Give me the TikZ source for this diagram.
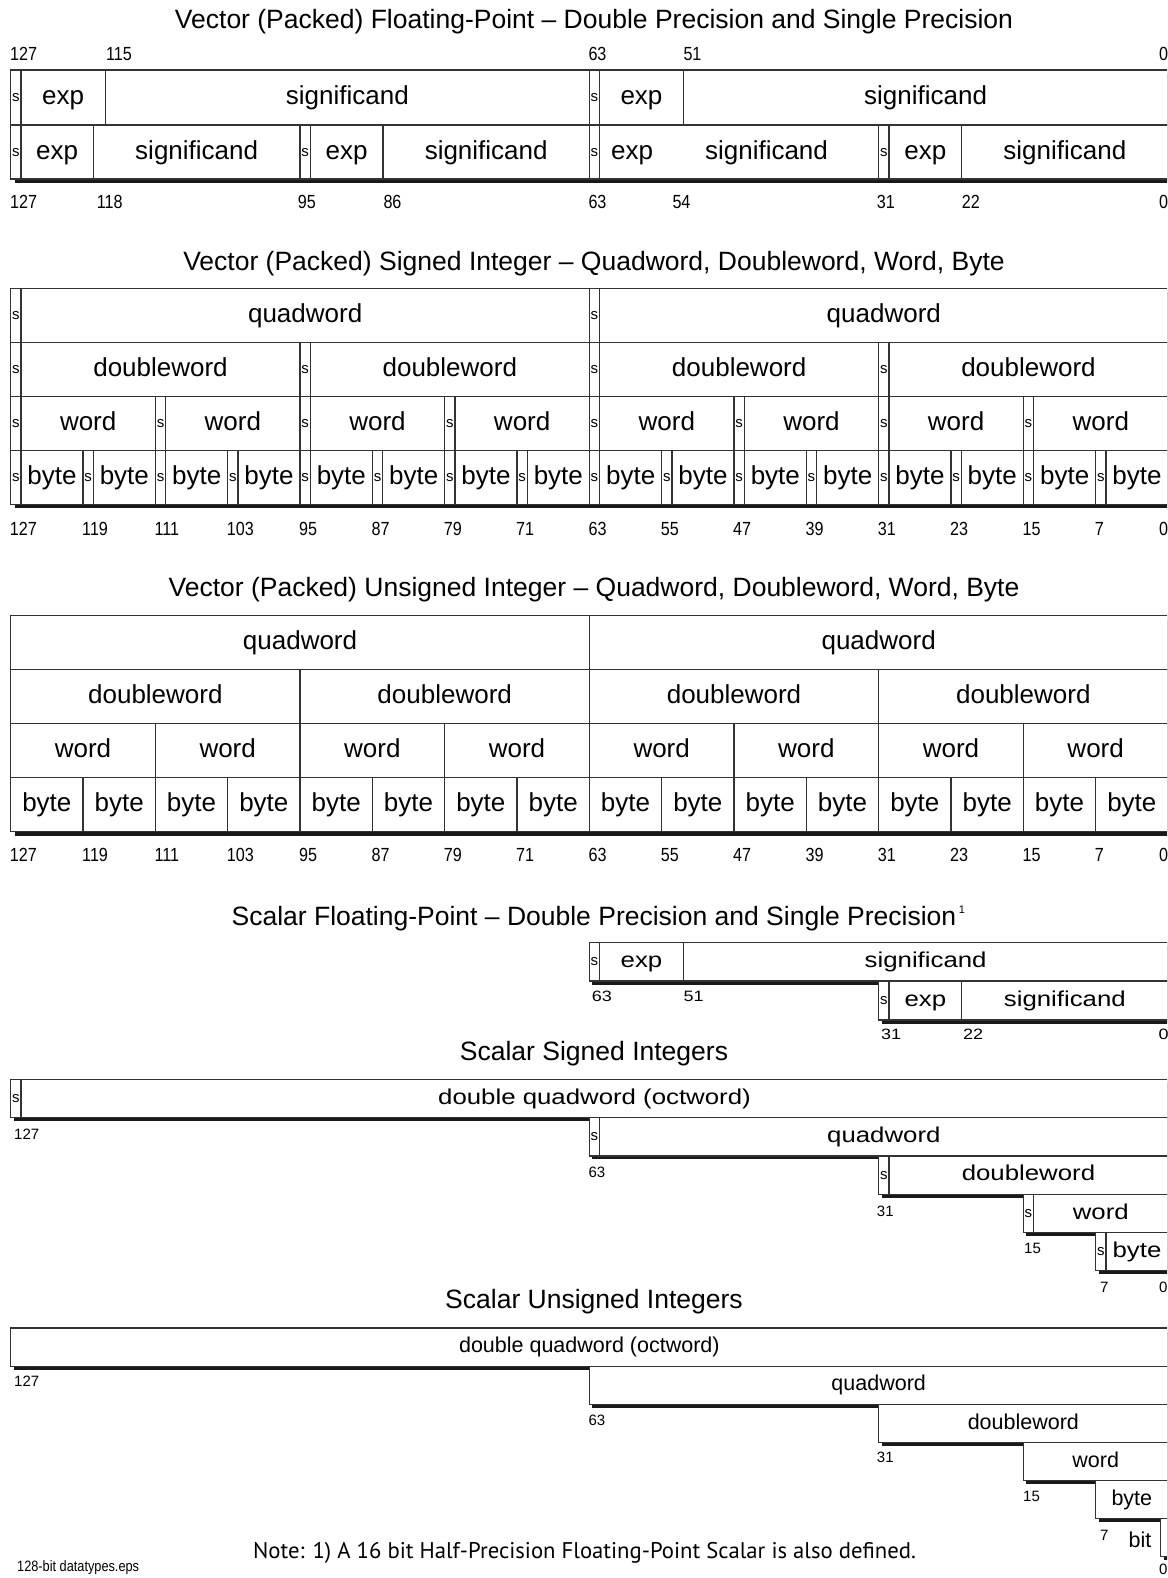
\documentclass[tikz,border=0pt]{standalone}
\usepackage{fontspec}
\setmainfont{Liberation Sans}
\newfontfamily\condfont[FakeStretch=0.85]{Liberation Sans}
\newfontfamily\widefont[FakeStretch=1.2]{Liberation Sans}
\newfontfamily\notefont{PT Sans}
\def\bx#1{(10.7+72.33*(#1))}
\newcommand{\fld}[7][]{\node[fld,#1,minimum width={(#4)-(#3)},minimum height={(#6)-(#5)}] (#2) at ({#3},{#5}) {#7};}
\tikzset{
  fld/.style={draw=black!80, line width=1.1pt, fill=white, inner sep=0pt, outer sep=0pt, anchor=north west},
  big/.style={font=\fontsize{26}{28}\selectfont, inner sep=0pt, text height=14.5pt, text depth=0pt},
  sg/.style={font=\fontsize{15}{15}\selectfont, text height=8.3pt, text depth=0pt},
  wd/.style={font=\widefont\fontsize{21.5}{24}\selectfont, text height=11.4pt, text depth=0pt},
  pl/.style={font=\fontsize{21.5}{24}\selectfont, inner sep=0pt, text height=11.4pt, text depth=0pt},
  ttl/.style={font=\fontsize{26.5}{28}\selectfont, inner sep=0pt},
  num/.style={font=\condfont\fontsize{19}{19}\selectfont, inner sep=0pt, anchor=west, text height=13.6pt, text depth=0pt},
  snum/.style={font=\fontsize{15}{15}\selectfont, inner sep=0pt, anchor=west, text height=10.7pt, text depth=0pt},
  wnum/.style={font=\widefont\fontsize{15}{15}\selectfont, inner sep=0pt, anchor=west, text height=10.7pt, text depth=0pt},
  shd/.style={fill=black!90}
}
\begin{document}
\begin{tikzpicture}[x=1pt, y=-1pt]
    \useasboundingbox (0,0) rectangle (1167,1578);
    \clip (0,0) rectangle (1167,1578);
    \fill[white] (0,0) rectangle (1167,1578);

    \node[ttl] (t1) at (594,22) {Vector (Packed) Floating-Point – Double Precision and Single Precision};
    \fill[shd] ({\bx{0}+4},74) rectangle ({\bx{16}+4},183);
    \fld[sg]{a1}{\bx{0}}{\bx{0}+10.3}{70}{125}{s}
    \fld[big]{a2}{\bx{0}+10.3}{105.3}{70}{125}{exp}
    \fld[big]{a3}{105.3}{\bx{8}}{70}{125}{significand}
    \fld[sg]{a4}{\bx{8}}{\bx{8}+10.3}{70}{125}{s}
    \fld[big]{a5}{\bx{8}+10.3}{683.3}{70}{125}{exp}
    \fld[big]{a6}{683.3}{\bx{16}}{70}{125}{significand}
    \fld[sg]{b1}{\bx{0}}{\bx{0}+10.3}{125}{179}{s}
    \fld[big]{b2}{\bx{0}+10.3}{93.3}{125}{179}{exp}
    \fld[big]{b3}{93.3}{\bx{4}}{125}{179}{significand}
    \fld[sg]{b4}{\bx{4}}{\bx{4}+10.3}{125}{179}{s}
    \fld[big]{b5}{\bx{4}+10.3}{383}{125}{179}{exp}
    \fld[big]{b6}{383}{\bx{8}}{125}{179}{significand}
    \fld[sg]{b7}{\bx{8}}{\bx{8}+10.3}{125}{179}{s}
    \fld{b8}{\bx{8}+10.3}{\bx{12}}{125}{179}{}
    \node[big] (b8e) at (632,152) {exp};
    \node[big] (b8s) at (766.5,152) {significand};
    \fld[sg]{b9}{\bx{12}}{\bx{12}+10.3}{125}{179}{s}
    \fld[big]{b10}{\bx{12}+10.3}{961.7}{125}{179}{exp}
    \fld[big]{b11}{961.7}{\bx{16}}{125}{179}{significand}
    \foreach \n/\x [count=\i] in {127/10,115/106,63/588.3,51/683.3,0/1159}
        \node[num] (ta\i) at (\x,53.3) {\n};
    \foreach \n/\x [count=\i] in {127/10,118/96.7,95/297.7,86/383.3,63/588.3,54/672.3,31/876.7,22/961.7,0/1159}
        \node[num] (tb\i) at (\x,201.5) {\n};

    \node[ttl] (t2) at (594,263.6) {Vector (Packed) Signed Integer – Quadword, Doubleword, Word, Byte};
    \fill[shd] ({\bx{0}+4},292.5) rectangle ({\bx{16}+4},508);
    \foreach \w/\t [count=\row from 0] in {8/quadword,4/doubleword,2/word,1/byte}{
        \pgfmathsetmacro\ya{288.5+53.9*\row}
        \pgfmathsetmacro\yb{\ya+53.9}
        \pgfmathtruncatemacro\m{16/\w-1}
        \foreach \i in {0,...,\m}{
            \fld[sg]{sa\row-\i}{\bx{\i*\w}}{\bx{\i*\w}+10.3}{\ya}{\yb}{s}
            \fld[big]{fa\row-\i}{\bx{\i*\w}+10.3}{\bx{(\i+1)*\w}}{\ya}{\yb}{\t}
        }
    }
    \foreach \n [count=\k from 0] in {127,119,111,103,95,87,79,71,63,55,47,39,31,23,15,7}
        \node[num] (na\k) at ({\bx{\k}-1},528.5) {\n};
    \node[num] (na16) at (1159,528.5) {0};

    \node[ttl] (t3) at (594,589.5) {Vector (Packed) Unsigned Integer – Quadword, Doubleword, Word, Byte};
    \fill[shd] ({\bx{0}+4},619.7) rectangle ({\bx{16}+4},835.7);
    \foreach \w/\t [count=\row from 0] in {8/quadword,4/doubleword,2/word,1/byte}{
        \pgfmathsetmacro\ya{615.7+54*\row}
        \pgfmathsetmacro\yb{\ya+54}
        \pgfmathtruncatemacro\m{16/\w-1}
        \foreach \i in {0,...,\m}{
            \fld[big]{fu\row-\i}{\bx{\i*\w}}{\bx{(\i+1)*\w}}{\ya}{\yb}{\t}
        }
    }
    \foreach \n [count=\k from 0] in {127,119,111,103,95,87,79,71,63,55,47,39,31,23,15,7}
        \node[num] (nu\k) at ({\bx{\k}-1},855) {\n};
    \node[num] (nu16) at (1159,855) {0};

    \node[ttl] (t4) at (594,918.5) {Scalar Floating-Point – Double Precision and Single Precision};
    \node[font=\fontsize{11}{11}\selectfont, inner sep=0pt, anchor=north west] (t4s) at ([xshift=2pt]t4.north east) {1};
    \fill[shd] ({\bx{8}+3},946) rectangle ({\bx{16}+3},984.5);
    \fld[sg]{c1}{\bx{8}}{\bx{8}+10.3}{942.6}{981}{s}
    \fld[wd]{c2}{\bx{8}+10.3}{683.3}{942.6}{981}{exp}
    \fld[wd]{c3}{683.3}{\bx{16}}{942.6}{981}{significand}
    \fill[shd] ({\bx{12}+3},984.5) rectangle ({\bx{16}+3},1023.5);
    \fld[sg]{c4}{\bx{12}}{\bx{12}+10.3}{981}{1020}{s}
    \fld[wd]{c5}{\bx{12}+10.3}{961.7}{981}{1020}{exp}
    \fld[wd]{c6}{961.7}{\bx{16}}{981}{1020}{significand}
    \foreach \n/\x/\y [count=\i] in {63/591.7/996,51/683.3/996,31/881/1034,22/963/1034,0/1158.5/1034}
        \node[wnum] (nf\i) at (\x,\y) {\n};

    \node[ttl] (t5) at (594,1054) {Scalar Signed Integers};
    \foreach \k/\t [count=\row from 0] in {0/{double quadword (octword)},8/quadword,12/doubleword,14/word,15/byte}{
        \pgfmathsetmacro\ya{1079.4+38.27*\row}
        \pgfmathsetmacro\yb{\ya+38.27}
        \fill[shd] ({\bx{\k}+3},{\ya+3.5}) rectangle ({\bx{16}+3},{\yb+3.5});
        \fld[sg]{ss\row}{\bx{\k}}{\bx{\k}+10.3}{\ya}{\yb}{s}
        \fld[wd]{fs\row}{\bx{\k}+10.3}{\bx{16}}{\ya}{\yb}{\t}
    }
    \foreach \n/\x/\y [count=\i] in {127/14/1134,63/588.3/1172,31/876.7/1211,15/1024/1248.3,7/1100/1286.7,0/1159/1286.7}
        \node[snum] (ns\i) at (\x,\y) {\n};

    \node[ttl] (t6) at (594,1301.8) {Scalar Unsigned Integers};
    \foreach \k/\t [count=\row from 0] in {0/{double quadword (octword)},8/quadword,12/doubleword,14/word,15/byte}{
        \pgfmathsetmacro\ya{1328+38.13*\row}
        \pgfmathsetmacro\yb{\ya+38.13}
        \fill[shd] ({\bx{\k}+3},{\ya+3.5}) rectangle ({\bx{16}+3},{\yb+3.5});
        \fld[pl]{fv\row}{\bx{\k}}{\bx{16}}{\ya}{\yb}{\t}
    }
    \fill[shd] (1163.7,1522.2) rectangle (1171,1560.3);
    \fld{fbit}{1160.7}{\bx{16}}{1518.7}{1556.8}{}
    \node[pl] (bit) at (1140,1541.7) {bit};
    \foreach \n/\x/\y [count=\i] in {127/14/1381,63/588.3/1420.5,31/876.7/1457.5,15/1023/1496,7/1100/1535,0/1159/1569}
        \node[snum] (nv\i) at (\x,\y) {\n};

    \node[font=\notefont\fontsize{22.7}{24}\selectfont, inner sep=0pt] (note) at (584.5,1552.5) {Note: 1) A 16 bit Half-Precision Floating-Point Scalar is also defined.};
    \node[font=\condfont\fontsize{15}{15}\selectfont, inner sep=0pt, anchor=west] (file) at (17,1568) {128-bit datatypes.eps};
\end{tikzpicture}
\end{document}
